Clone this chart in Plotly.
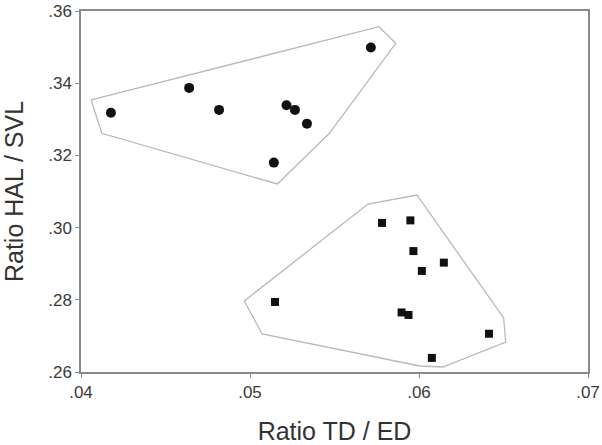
import plotly.graph_objects as go

# Group 1 (circles)
circ_x = [0.04177, 0.04640, 0.04817, 0.05216, 0.05266, 0.05337, 0.05141, 0.05715]
circ_y = [0.3318, 0.3387, 0.3326, 0.3339, 0.3326, 0.3288, 0.3180, 0.3499]

# Group 2 (squares)
sq_x = [0.05148, 0.05781, 0.05949, 0.05967, 0.06017, 0.06147, 0.05897, 0.05938, 0.06414, 0.06076]
sq_y = [0.2794, 0.3013, 0.3020, 0.2935, 0.2880, 0.2903, 0.2765, 0.2758, 0.2706, 0.2639]

# Hull outlines
hull1_x = [0.0406, 0.05763, 0.05862, 0.05470, 0.05162, 0.04123, 0.0406]
hull1_y = [0.33535, 0.35565, 0.35105, 0.32612, 0.31208, 0.32612, 0.33535]
hull2_x = [0.04966, 0.05698, 0.05988, 0.06501, 0.06513, 0.06141, 0.06005, 0.05072, 0.04966]
hull2_y = [0.27967, 0.30654, 0.30903, 0.27496, 0.26831, 0.26139, 0.26166, 0.27053, 0.27967]

x_ticks = [0.04, 0.05, 0.06, 0.07]
x_labels = [".04", ".05", ".06", ".07"]
y_ticks = [0.26, 0.28, 0.30, 0.32, 0.34, 0.36]
y_labels = [".26", ".28", ".30", ".32", ".34", ".36"]

fig = go.Figure()
hull_line = dict(color="#b8b8b8", width=1.3)
fig.add_trace(go.Scatter(x=hull1_x, y=hull1_y, mode="lines", line=hull_line, hoverinfo="skip"))
fig.add_trace(go.Scatter(x=hull2_x, y=hull2_y, mode="lines", line=hull_line, hoverinfo="skip"))
fig.add_trace(go.Scatter(x=circ_x, y=circ_y, mode="markers",
                         marker=dict(symbol="circle", size=10, color="#111111")))
fig.add_trace(go.Scatter(x=sq_x, y=sq_y, mode="markers",
                         marker=dict(symbol="square", size=8, color="#111111")))

axis_common = dict(showgrid=False, zeroline=False, showline=True, linecolor="#8a8a8a",
                   linewidth=1.5, mirror=True, ticks="outside", ticklen=4, tickcolor="#8a8a8a",
                   automargin=False, ticklabeloverflow="allow",
                   tickfont=dict(family="Liberation Sans, Arial, sans-serif", size=17, color="#3a3a3a"))

fig.update_layout(
    width=602, height=445,
    margin=dict(l=80.5, r=13.5, t=11, b=73),
    paper_bgcolor="white", plot_bgcolor="white",
    showlegend=False,
    font=dict(family="Liberation Sans, Arial, sans-serif"),
    xaxis=dict(range=[0.04, 0.07], tickvals=x_ticks, ticktext=x_labels,
               title=dict(text="Ratio TD / ED", font=dict(size=25, color="#333333"), standoff=23),
               **axis_common),
    yaxis=dict(range=[0.26, 0.36], tickvals=y_ticks, ticktext=y_labels,
               title=dict(text="Ratio HAL / SVL", font=dict(size=25, color="#333333"), standoff=20),
               **axis_common),
)

fig.write_html("out.html", config={"displayModeBar": False},
               post_script="document.body.style.margin='0';document.body.style.overflow='hidden';")
